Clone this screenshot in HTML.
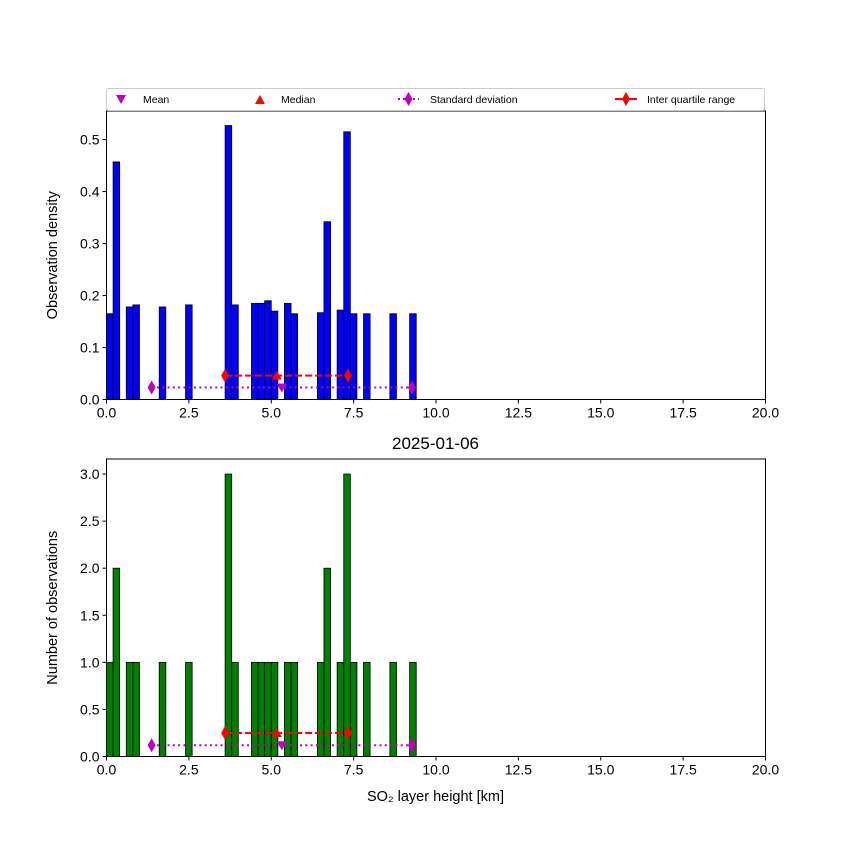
<!DOCTYPE html>
<html><head><meta charset="utf-8"><style>
body{margin:0;background:#fff}
svg text{font-family:"Liberation Sans","DejaVu Sans",sans-serif;fill:#000}
</style></head><body>
<svg id="c" width="850" height="850" xmlns="http://www.w3.org/2000/svg"></svg>
<script>
const binIdx=[0,1,3,4,8,12,18,19,22,23,24,25,27,28,32,33,35,36,37,39,43,46];
const counts=[1,2,1,1,1,1,3,1,1,1,1,1,1,1,1,2,1,3,1,1,1,1];
const density=[0.165,0.457,0.178,0.182,0.178,0.182,0.527,0.182,0.185,0.185,0.19,0.17,0.185,0.165,0.167,0.342,0.172,0.515,0.165,0.165,0.165,0.165];
const binW=0.2;
const xTicks=[0,2.5,5,7.5,10,12.5,15,17.5,20];
const topTicks=[0,0.1,0.2,0.3,0.4,0.5];
const botTicks=[0,0.5,1,1.5,2,2.5,3];
const statsX={mean:5.32,median:5.17,q1:3.6,q3:7.33,sdLo:1.37,sdHi:9.27};
const statsTop={iqr:0.046,sd:0.023};
const statsBot={iqr:0.25,sd:0.12};
const NS="http://www.w3.org/2000/svg";
const svg=document.getElementById('c');
function el(t,a,p){const e=document.createElementNS(NS,t);for(const k in a)e.setAttribute(k,a[k]);(p||svg).appendChild(e);return e;}
const X0=106.5,X1=765.5;
const sx=v=>X0+(v/20)*(X1-X0);
function panel(top,bottom,ymax,vals,ticks,color,st,ylabel,name){
  const g=el('g',{});
  
  
  const sy=v=>bottom-(v/ymax)*(bottom-top);
  vals.forEach((v,i)=>{
    const r=el('rect',{x:sx(binIdx[i]*binW),y:sy(v),width:sx(binW)-sx(0),height:bottom-sy(v),fill:color,stroke:'#000','stroke-width':0.8},g);
    
    
  });
  el('line',{x1:sx(statsX.sdLo),x2:sx(statsX.sdHi),y1:sy(st.sd),y2:sy(st.sd),stroke:'#bf00bf','stroke-width':2,'stroke-dasharray':'2,3.3'},g);
  el('line',{x1:sx(statsX.q1),x2:sx(statsX.q3),y1:sy(st.iqr),y2:sy(st.iqr),stroke:'red','stroke-width':2,'stroke-dasharray':'7,3'},g);
  const dia=(x,y,c)=>el('path',{d:`M${x},${y-7}L${x+4},${y}L${x},${y+7}L${x-4},${y}Z`,fill:c},g);
  dia(sx(statsX.sdLo),sy(st.sd),'#bf00bf');dia(sx(statsX.sdHi),sy(st.sd),'#bf00bf');
  dia(sx(statsX.q1),sy(st.iqr),'red');dia(sx(statsX.q3),sy(st.iqr),'red');
  let mx=sx(statsX.median),my=sy(st.iqr);
  el('path',{d:`M${mx-5},${my+4}L${mx+5},${my+4}L${mx},${my-5}Z`,fill:'red'},g);
  mx=sx(statsX.mean);my=sy(st.sd);
  el('path',{d:`M${mx-5},${my-4}L${mx+5},${my-4}L${mx},${my+5}Z`,fill:'#bf00bf'},g);
  el('rect',{x:X0,y:top,width:X1-X0,height:bottom-top,fill:'none',stroke:'#000','stroke-width':1},g);
  xTicks.forEach(t=>{
    el('line',{x1:sx(t),x2:sx(t),y1:bottom,y2:bottom+4,stroke:'#000'},g);
    const tx=el('text',{x:sx(t),y:bottom+18,'text-anchor':'middle','font-size':14},g);tx.textContent=t.toFixed(1);
  });
  ticks.forEach(t=>{
    el('line',{x1:X0,x2:X0-4,y1:sy(t),y2:sy(t),stroke:'#000'},g);
    const tx=el('text',{x:X0-7,y:sy(t)+5,'text-anchor':'end','font-size':14},g);tx.textContent=t.toFixed(1);
  });
  const yl=el('text',{x:0,y:0,'text-anchor':'middle','font-size':14.5,transform:`translate(57,${(top+bottom)/2}) rotate(-90)`},g);
  yl.textContent=ylabel;
}
panel(111,399.5,0.555,density,topTicks,'blue',statsTop,'Observation density','density-panel');
panel(459,756.5,3.16,counts,botTicks,'green',statsBot,'Number of observations','count-panel');
const title=el('text',{x:435.5,y:449,'text-anchor':'middle','font-size':17});


title.textContent='2025-01-06';
const xl=el('text',{x:435.5,y:801,'text-anchor':'middle','font-size':14.5});


xl.textContent='SO₂ layer height [km]';
const lg=el('g',{});


el('rect',{x:106.5,y:88.5,width:658,height:22,fill:'#fff',stroke:'#ccc',rx:2},lg);
el('path',{d:'M116,95L126,95L121,104Z',fill:'#bf00bf'},lg);
let t=el('text',{x:143,y:103,'font-size':10.5},lg);t.textContent='Mean';
el('path',{d:'M255,104L265,104L260,95Z',fill:'red'},lg);
t=el('text',{x:281,y:103,'font-size':10.5},lg);t.textContent='Median';
el('line',{x1:398,x2:419,y1:99,y2:99,stroke:'#bf00bf','stroke-width':2,'stroke-dasharray':'2,3'},lg);
el('path',{d:'M408.5,92L412.5,99L408.5,106L404.5,99Z',fill:'#bf00bf'},lg);
t=el('text',{x:430,y:103,'font-size':10.5},lg);t.textContent='Standard deviation';
el('line',{x1:615,x2:637,y1:99,y2:99,stroke:'red','stroke-width':2},lg);
el('path',{d:'M626,92L630,99L626,106L622,99Z',fill:'red'},lg);
t=el('text',{x:647,y:103,'font-size':10.5},lg);t.textContent='Inter quartile range';
</script>
</body></html>
